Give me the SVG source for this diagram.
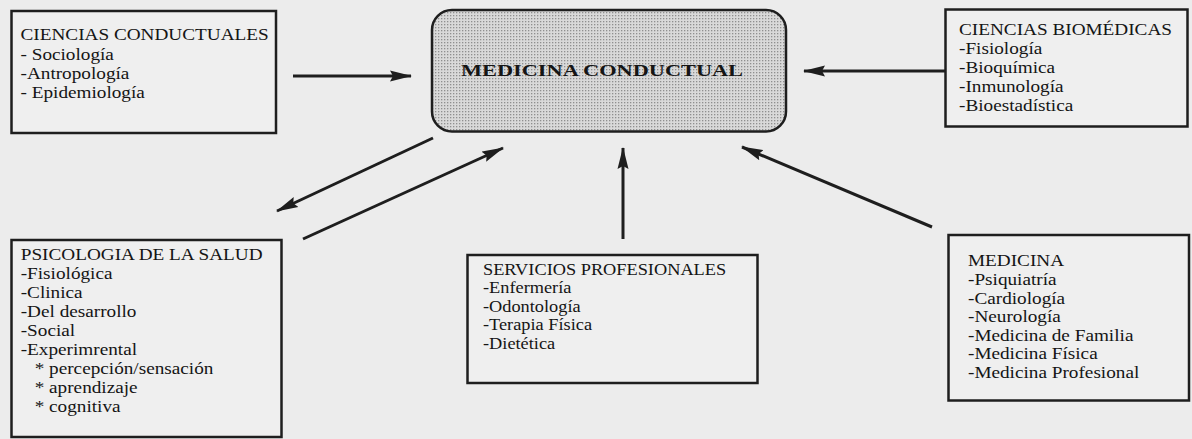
<svg xmlns="http://www.w3.org/2000/svg" width="1192" height="439" viewBox="0 0 1192 439">
<style>
.bg{fill:#ececec}
.box{fill:#efefef;stroke:#1e1e1e;stroke-width:2.5}
.core{fill:url(#stip);stroke:#1e1e1e;stroke-width:2.5}
.t{font-family:"Liberation Serif","Times New Roman",serif;font-size:16.5px;fill:#151515}
.title{font-family:"Liberation Serif","Times New Roman",serif;font-size:17px;font-weight:bold;fill:#151515}
.arr{stroke:#1e1e1e;stroke-width:3;fill:none;marker-end:url(#ah)}
</style>
<defs>
<pattern id="stip" width="3" height="3" patternUnits="userSpaceOnUse">
<rect width="3" height="3" fill="#d9d9d9"/>
<rect width="1.3" height="1.3" fill="#8f8f8f"/>
</pattern>
<marker id="ah" viewBox="0 0 22 12" refX="21" refY="6" markerWidth="22" markerHeight="12" markerUnits="userSpaceOnUse" orient="auto">
<path d="M0,0.5 L22,6 L0,11.5 L3,6 z" fill="#1e1e1e"/>
</marker>
</defs>
<rect class="bg" x="0" y="0" width="1192" height="439"/>

<g id="connectors">
<line class="arr" x1="293" y1="76" x2="411" y2="76"/>
<line class="arr" x1="945" y1="71" x2="804" y2="71"/>
<line class="arr" x1="433" y1="138" x2="277" y2="211"/>
<line class="arr" x1="303" y1="239" x2="503" y2="148"/>
<line class="arr" x1="623" y1="239" x2="623" y2="148"/>
<line class="arr" x1="932" y1="227" x2="742" y2="147"/>
</g>

<g id="ciencias-conductuales">
<rect class="box" x="11.5" y="11" width="264.5" height="122"/>
<g transform="translate(20.5,0) scale(1.165,1)">
<text class="t" x="0" y="40.5">CIENCIAS CONDUCTUALES</text>
<text class="t" x="0" y="59.8">- Sociología</text>
<text class="t" x="0" y="78.8">-Antropología</text>
<text class="t" x="0" y="98">- Epidemiología</text>
</g>
</g>

<g id="medicina-conductual">
<rect class="core" x="432" y="10" width="354" height="121.5" rx="20" ry="20"/>
<text class="title" x="461" y="76" textLength="282" lengthAdjust="spacingAndGlyphs">MEDICINA CONDUCTUAL</text>
</g>

<g id="ciencias-biomedicas">
<rect class="box" x="945.5" y="9.5" width="242" height="117"/>
<g transform="translate(959,0) scale(1.165,1)">
<text class="t" x="0" y="34.8">CIENCIAS BIOMÉDICAS</text>
<text class="t" x="0" y="53.8">-Fisiología</text>
<text class="t" x="0" y="72.8">-Bioquímica</text>
<text class="t" x="0" y="91.8">-Inmunología</text>
<text class="t" x="0" y="110.8">-Bioestadística</text>
</g>
</g>

<g id="psicologia-salud">
<rect class="box" x="11.5" y="240" width="270" height="197"/>
<g transform="translate(20.7,0) scale(1.165,1)">
<text class="t" x="0" y="260">PSICOLOGIA DE LA SALUD</text>
<text class="t" x="0" y="279">-Fisiológica</text>
<text class="t" x="0" y="298">-Clinica</text>
<text class="t" x="0" y="317">-Del desarrollo</text>
<text class="t" x="0" y="336">-Social</text>
<text class="t" x="0" y="355">-Experimrental</text>
<text class="t" x="12" y="374">* percepción/sensación</text>
<text class="t" x="12" y="393">* aprendizaje</text>
<text class="t" x="12" y="412">* cognitiva</text>
</g>
</g>

<g id="servicios-profesionales">
<rect class="box" x="467.5" y="255" width="290" height="128"/>
<g transform="translate(483,0) scale(1.11,1)">
<text class="t" x="0" y="275">SERVICIOS PROFESIONALES</text>
<text class="t" x="0" y="293.5">-Enfermería</text>
<text class="t" x="0" y="312">-Odontología</text>
<text class="t" x="0" y="330.5">-Terapia Física</text>
<text class="t" x="0" y="349">-Dietética</text>
</g>
</g>

<g id="medicina">
<rect class="box" x="948.5" y="235" width="240.5" height="165.5"/>
<g transform="translate(968,0) scale(1.165,1)">
<text class="t" x="0" y="266.5">MEDICINA</text>
<text class="t" x="0" y="285.1">-Psiquiatría</text>
<text class="t" x="0" y="303.7">-Cardiología</text>
<text class="t" x="0" y="322.3">-Neurología</text>
<text class="t" x="0" y="340.9">-Medicina de Familia</text>
<text class="t" x="0" y="359.5">-Medicina Física</text>
<text class="t" x="0" y="378.1">-Medicina Profesional</text>
</g>
</g>
</svg>
